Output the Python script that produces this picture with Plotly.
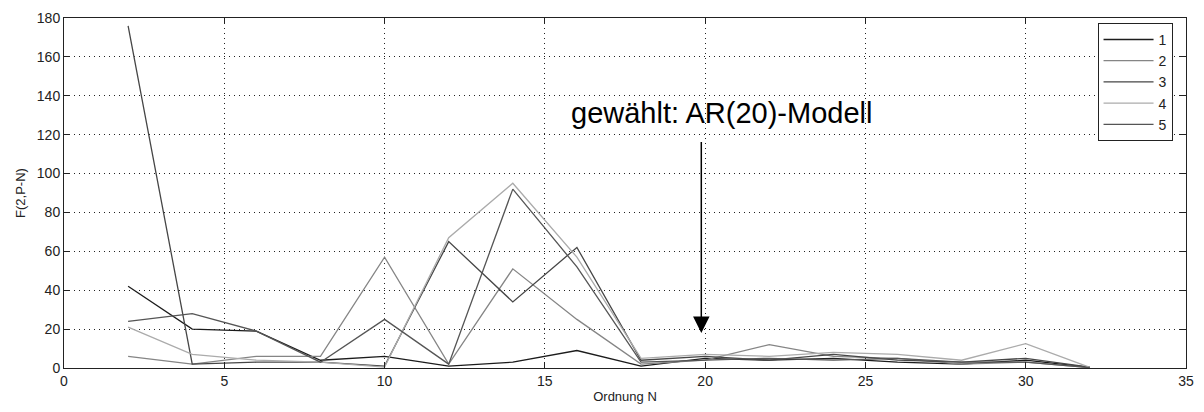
import plotly.graph_objects as go

# Model order N (even orders only)
order_n = [2, 4, 6, 8, 10, 12, 14, 16, 18, 20, 22, 24, 26, 28, 30, 32]

# F(2, P-N) test statistic for each of the five signals
f_series_1 = [42, 20, 19, 4, 6, 1, 3, 9, 1, 5, 4, 5, 3, 2, 4, 0.3]
f_series_2 = [6, 2, 6, 6, 57, 2, 51, 25, 2, 4, 12, 6, 5, 2, 3, 0.2]
f_series_3 = [176, 2, 3, 3, 1, 65, 34, 62, 4, 6, 4, 7, 4, 3, 5, 0.5]
f_series_4 = [21, 7, 4, 3, 0.5, 67, 95, 57, 5, 7, 6, 8, 7, 4, 12.5, 0.3]
f_series_5 = [24, 28, 19, 3, 25, 2, 92, 52, 3, 4, 5, 4, 5, 3, 3, 0.2]

series_names = ["1", "2", "3", "4", "5"]
series_values = [f_series_1, f_series_2, f_series_3, f_series_4, f_series_5]
series_colors = ["#1c1c1c", "#858585", "#464646", "#ababab", "#555555"]

x_ticks = [0, 5, 10, 15, 20, 25, 30, 35]
y_ticks = [0, 20, 40, 60, 80, 100, 120, 140, 160, 180]

chosen_order = 20
annotation_text = "gewählt: AR(20)-Modell"

font_family = "Liberation Sans, Arial, sans-serif"

fig = go.Figure()
for name, vals, col in zip(series_names, series_values, series_colors):
    fig.add_trace(go.Scatter(
        x=order_n, y=vals, name=name, mode="lines",
        line=dict(color=col, width=1.3),
    ))

axis_common = dict(
    showline=True, linecolor="#222222", linewidth=1,
    mirror="ticks", ticks="inside", ticklen=6, tickcolor="#222222",
    showgrid=True, gridcolor="#222222", gridwidth=1, griddash="1px,4px",
    zeroline=False,
    tickfont=dict(family=font_family, size=14, color="#222222"),
)

fig.update_xaxes(
    range=[0, 35], tickvals=x_ticks,
    title=dict(text="Ordnung N", standoff=4,
               font=dict(family=font_family, size=13, color="#222222")),
    **axis_common,
)
fig.update_yaxes(
    range=[0, 180], tickvals=y_ticks,
    title=dict(text="F(2,P-N)", standoff=8,
               font=dict(family=font_family, size=13, color="#222222")),
    **axis_common,
)

# Arrow pointing at the selected model order
fig.add_annotation(
    x=chosen_order - 0.12, y=18, ax=chosen_order - 0.12, ay=117,
    xref="x", yref="y", axref="x", ayref="y",
    showarrow=True, arrowhead=2, arrowsize=2.2, arrowwidth=1.5,
    arrowcolor="#000000", text="",
)
fig.add_annotation(
    x=chosen_order + 0.5, y=131, xref="x", yref="y",
    text=annotation_text, showarrow=False,
    font=dict(family=font_family, size=29, color="#000000"),
)

fig.update_layout(
    width=1204, height=412,
    margin=dict(l=64, r=10, t=16, b=43),
    paper_bgcolor="#ffffff", plot_bgcolor="#ffffff",
    showlegend=True,
    legend=dict(
        x=0.988, y=0.986, xanchor="right", yanchor="top",
        bordercolor="#222222", borderwidth=1, bgcolor="#ffffff",
        font=dict(family=font_family, size=14, color="#222222"),
        tracegroupgap=0, itemwidth=50,
    ),
)

fig.write_html("out.html")
